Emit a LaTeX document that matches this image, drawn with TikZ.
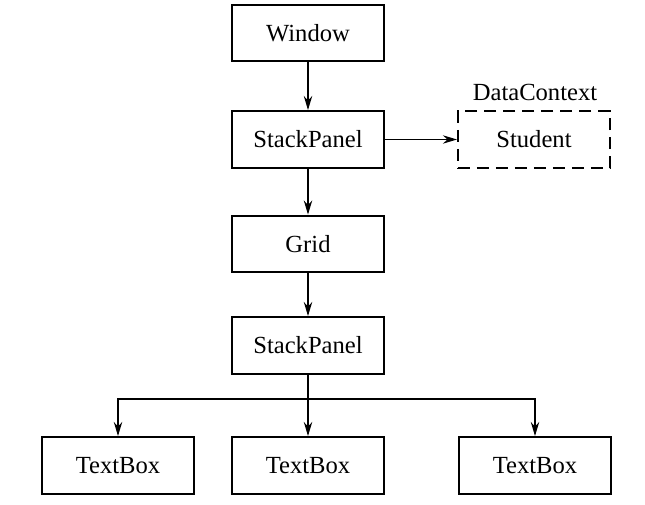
\documentclass[tikz,border=0pt]{standalone}
\usepackage{fontspec}
\setmainfont{Liberation Serif}
\usetikzlibrary{arrows.meta}
\begin{document}
\begin{tikzpicture}[x=0.025cm,y=-0.025cm,
    elembox/.style={draw,line width=1.5pt,minimum width=3.8cm,minimum height=1.42cm,
      inner sep=0pt,font=\fontsize{17.5}{20}\selectfont},
    ctxbox/.style={elembox,dash pattern=on 8.5pt off 5pt},
    link/.style={line width=0.8pt,-{Stealth[length=10pt,width=6pt]}}]
    \useasboundingbox (0,0) rectangle (645,505);
    % Element tree
    \node[elembox] (window) at (308,33) {Window};
    \node[elembox] (outer) at (308,139.5) {StackPanel};
    \node[ctxbox] (student) at (534,139.5) {Student};
    \node[font=\fontsize{17.5}{20}\selectfont] (ctx) at (535,92) {DataContext};
    \node[elembox] (grid) at (308,244) {Grid};
    \node[elembox] (inner) at (308,345.5) {StackPanel};
    \node[elembox] (tbA) at (118,465.5) {TextBox};
    \node[elembox] (tbB) at (308,465.5) {TextBox};
    \node[elembox] (tbC) at (535,465.5) {TextBox};
    \coordinate (fork) at (308,399);
    % Connectors
    \draw[link] (window) -- (outer);
    \draw[link] (outer) -- (student);
    \draw[link] (outer) -- (grid);
    \draw[link] (grid) -- (inner);
    \draw[link] (inner) -- (tbB);
    \draw[link] (fork) -| (tbA);
    \draw[link] (fork) -| (tbC);
  \end{tikzpicture}
\end{document}
